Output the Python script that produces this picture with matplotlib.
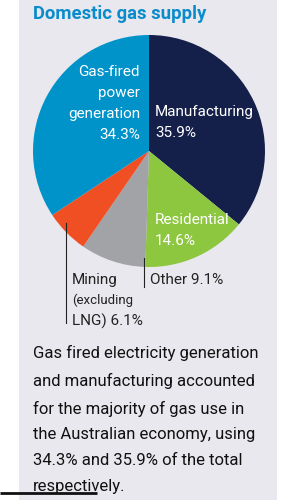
import matplotlib
matplotlib.use("Agg")
import matplotlib.pyplot as plt
from matplotlib.patches import Rectangle

plt.rcParams['font.family'] = ['Roboto', 'DejaVu Sans']

title = "Domestic gas supply"
categories = ["Manufacturing", "Residential", "Other", "Mining (excluding LNG)", "Gas-fired power generation"]
shares = [35.9, 14.6, 9.1, 6.1, 34.3]
colors = ["#141f4a", "#8dc63f", "#a1a3a6", "#f04e23", "#0093c9"]
caption = ("Gas fired electricity generation\nand manufacturing accounted\n"
           "for the majority of gas use in\nthe Australian economy, using\n"
           "34.3% and 35.9% of the total\nrespectively.")

W, H = 308, 500
fig = plt.figure(figsize=(W / 100, H / 100), dpi=100)
fig.patch.set_facecolor("white")

bg = fig.add_axes([0, 0, 1, 1], zorder=0)
bg.set_xlim(0, W)
bg.set_ylim(H, 0)
bg.axis("off")
bg.add_patch(Rectangle((19, 0), 258, H, facecolor="#e8e8ee", edgecolor="none"))

# pie
cx, cy, r = 149, 151, 116
pax = fig.add_axes([(cx - r) / W, 1 - (cy + r) / H, 2 * r / W, 2 * r / H], zorder=1)
pax.pie(shares, colors=colors, startangle=90, counterclock=False, radius=1,
        wedgeprops=dict(linewidth=0))
pax.set_xlim(-1, 1)
pax.set_ylim(-1, 1)
pax.set_aspect("equal")
pax.axis("off")

ov = fig.add_axes([0, 0, 1, 1], zorder=2)
ov.set_xlim(0, W)
ov.set_ylim(H, 0)
ov.axis("off")
ov.patch.set_alpha(0)

ov.text(33, 14, title, color="#0a8ccc", fontsize=13.3, fontweight="bold", va="center", ha="left")

fs = 11
ls = 21
# Gas-fired
for i, t in enumerate(["Gas-fired", "power", "generation", f"{shares[4]}%"]):
    ov.text(140, 72 + i * ls, t, color="white", fontsize=fs, ha="right", va="center")
# Manufacturing
ov.text(155, 112, categories[0], color="white", fontsize=fs, ha="left", va="center")
ov.text(155, 133, f"{shares[0]}%", color="white", fontsize=fs, ha="left", va="center")
# Residential
ov.text(155, 220, categories[1], color="white", fontsize=fs, ha="left", va="center")
ov.text(155, 241, f"{shares[1]}%", color="white", fontsize=fs, ha="left", va="center")
# Other
ov.plot([144, 144], [258, 287], color="#222222", lw=0.8)
ov.text(150, 280, f"{categories[2]} {shares[2]}%", color="#222222", fontsize=fs, ha="left", va="center")
# Mining
ov.plot([65.5, 65.5], [223, 323], color="#222222", lw=0.8)
ov.text(72, 280, "Mining", color="#222222", fontsize=fs, ha="left", va="center")
ov.text(72, 300, "(excluding", color="#222222", fontsize=fs - 1.5, ha="left", va="center")
ov.text(72, 321, f"LNG) {shares[3]}%", color="#222222", fontsize=fs, ha="left", va="center")

# caption
ov.text(33, 345, caption, color="#111111", fontsize=12, ha="left", va="top", linespacing=1.9)
ov.plot([0, 97], [493, 493], color="#111111", lw=2, solid_capstyle="butt")

fig.savefig("out.png", dpi=100, facecolor="white")
